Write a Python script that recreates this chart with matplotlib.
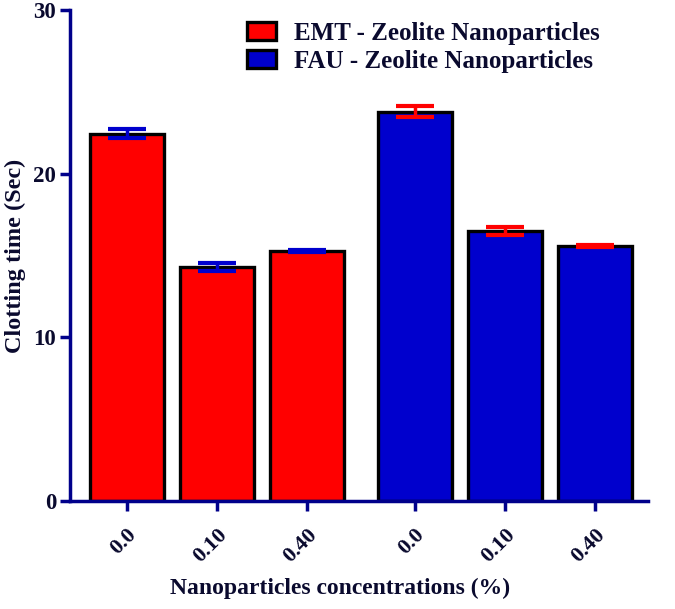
import matplotlib
matplotlib.use("Agg")
import matplotlib.pyplot as plt
import numpy as np

# values
groups = ["EMT - Zeolite Nanoparticles", "FAU - Zeolite Nanoparticles"]
conc_labels = ["0.0", "0.10", "0.40"]
emt_means = [22.45, 14.3, 15.3]
emt_err = [0.26, 0.26, 0.06]
fau_means = [23.8, 16.5, 15.6]
fau_err = [0.33, 0.23, 0.06]

navy = "#00008B"
text_col = "#0a0a2e"
plt.rcParams['font.family'] = ['Liberation Serif', 'DejaVu Serif']
plt.rcParams['font.weight'] = 'bold'

fig = plt.figure(figsize=(6.75, 6.09), dpi=100)
ax = fig.add_axes([0.1037, 0.177, 0.856, 0.8066])

x_emt = np.arange(3)
x_fau = np.arange(3) + 3.2
w = 0.82

ax.bar(x_emt, emt_means, width=w, color="#FF0000", edgecolor="black",
       linewidth=2.4, label=groups[0], zorder=2)
ax.bar(x_fau, fau_means, width=w, color="#0000CD", edgecolor="black",
       linewidth=2.4, label=groups[1], zorder=2)
ax.errorbar(x_emt, emt_means, yerr=emt_err, fmt="none", ecolor="#0000CD",
            elinewidth=2.5, capsize=14, capthick=3, zorder=3)
ax.errorbar(x_fau, fau_means, yerr=fau_err, fmt="none", ecolor="#FF0000",
            elinewidth=2.5, capsize=14, capthick=3, zorder=3)

ax.set_xlim(-0.63, 5.79)
ax.set_ylim(0, 30)
ax.set_yticks([0, 10, 20, 30])
ax.set_xticks(list(x_emt) + list(x_fau))
ax.set_xticklabels(conc_labels * 2, rotation=45, ha="right",
                   rotation_mode="anchor", fontsize=16, fontweight="bold",
                   color=text_col)
for lab in ax.get_yticklabels():
    lab.set_fontsize(16.5)
    lab.set_fontweight("bold")
    lab.set_color(text_col)

for s in ["top", "right"]:
    ax.spines[s].set_visible(False)
for s in ["left", "bottom"]:
    ax.spines[s].set_color(navy)
    ax.spines[s].set_linewidth(2.5)
ax.tick_params(axis="both", color=navy, width=2.5, length=7, direction="out")
ax.tick_params(axis="x", pad=10)
ax.tick_params(axis="y", pad=3)

ax.set_ylabel("Clotting time (Sec)", fontsize=17.5, fontweight="bold",
              color=text_col, labelpad=5)
ax.set_xlabel("Nanoparticles concentrations (%)", fontsize=17,
              fontweight="bold", color=text_col, labelpad=8, x=0.467)

leg = ax.legend(loc="upper left", bbox_to_anchor=(0.268, 1.022), frameon=False,
                fontsize=18, handlelength=1.15, handleheight=0.7,
                handletextpad=0.7, labelspacing=0.2)
for t in leg.get_texts():
    t.set_color(text_col)
    t.set_fontweight("bold")

fig.savefig("out.png", dpi=100)
